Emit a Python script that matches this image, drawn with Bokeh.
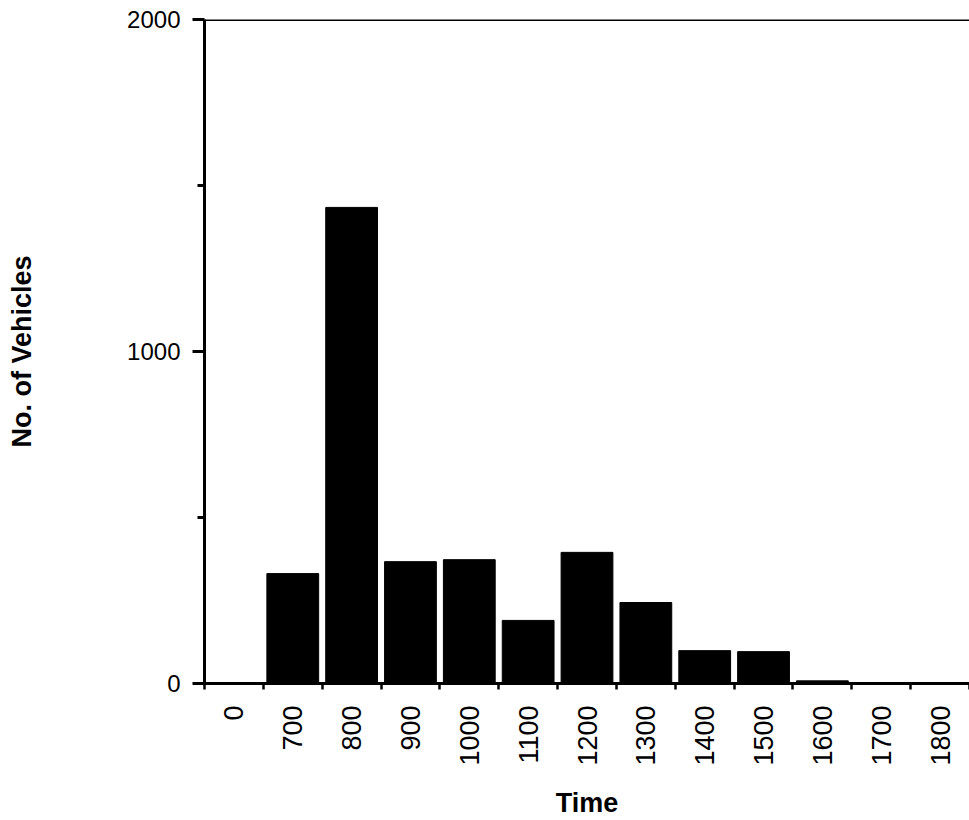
import math
from bokeh.plotting import figure
from bokeh.models import Range1d, FixedTicker, Span, ColumnDataSource
from bokeh.embed import file_html
from bokeh.resources import INLINE

categories = ["0", "700", "800", "900", "1000", "1100", "1200", "1300",
              "1400", "1500", "1600", "1700", "1800"]
vehicles = [0, 331, 1434, 367, 373, 190, 395, 244, 99, 96, 8, 3, 2]
y_major = [0, 1000, 2000]
y_minor = [500, 1500]

n = len(categories)
centers = [i + 0.5 for i in range(n)]
bounds = list(range(n + 1))

p = figure(width=969, height=820, output_backend="svg", toolbar_location=None,
           x_range=Range1d(0, n), y_range=Range1d(0, 2000),
           min_border_left=204, min_border_right=0, min_border_top=19,
           min_border_bottom=137)
p.outline_line_color = None
p.xgrid.visible = False
p.ygrid.visible = False
p.background_fill_color = "white"
p.border_fill_color = "white"

src = ColumnDataSource(dict(x=centers, top=vehicles, cat=categories))
p.vbar(x="x", top="top", bottom=0, width=0.88, source=src,
       fill_color="black", line_color="black")

p.add_layout(Span(location=2000, dimension="width", line_color="black", line_width=3))

FONT = "Liberation Sans"

xa = p.xaxis[0]
xa.ticker = FixedTicker(ticks=centers, minor_ticks=bounds)
xa.major_label_overrides = {c: lab for c, lab in zip(centers, categories)}
xa.major_label_orientation = math.pi / 2
xa.major_tick_line_color = None
xa.major_tick_out = 0
xa.major_tick_in = 0
xa.minor_tick_out = 6
xa.minor_tick_in = 0
xa.minor_tick_line_width = 2.5
xa.minor_tick_line_color = "black"
xa.axis_line_width = 3
xa.axis_line_color = "black"
xa.major_label_standoff = 16
xa.major_label_text_font = FONT
xa.major_label_text_font_size = "27px"
xa.major_label_text_color = "black"
xa.axis_label = "Time"
xa.axis_label_text_font = FONT
xa.axis_label_text_font_style = "bold"
xa.axis_label_text_font_size = "27px"
xa.axis_label_text_color = "black"
xa.axis_label_standoff = 19

ya = p.yaxis[0]
ya.ticker = FixedTicker(ticks=y_major, minor_ticks=y_minor)
ya.major_tick_out = 12
ya.major_tick_in = 0
ya.minor_tick_out = 7
ya.minor_tick_in = 0
ya.major_tick_line_width = 3
ya.minor_tick_line_width = 3
ya.axis_line_width = 3
ya.axis_line_color = "black"
ya.major_label_standoff = 12
ya.major_label_text_font = FONT
ya.major_label_text_font_size = "24px"
ya.major_label_text_color = "black"
ya.axis_label = "No. of Vehicles"
ya.axis_label_text_font = FONT
ya.axis_label_text_font_style = "bold"
ya.axis_label_text_font_size = "27px"
ya.axis_label_text_color = "black"
ya.axis_label_standoff = 87

open("out.html", "w").write(file_html(p, INLINE))
